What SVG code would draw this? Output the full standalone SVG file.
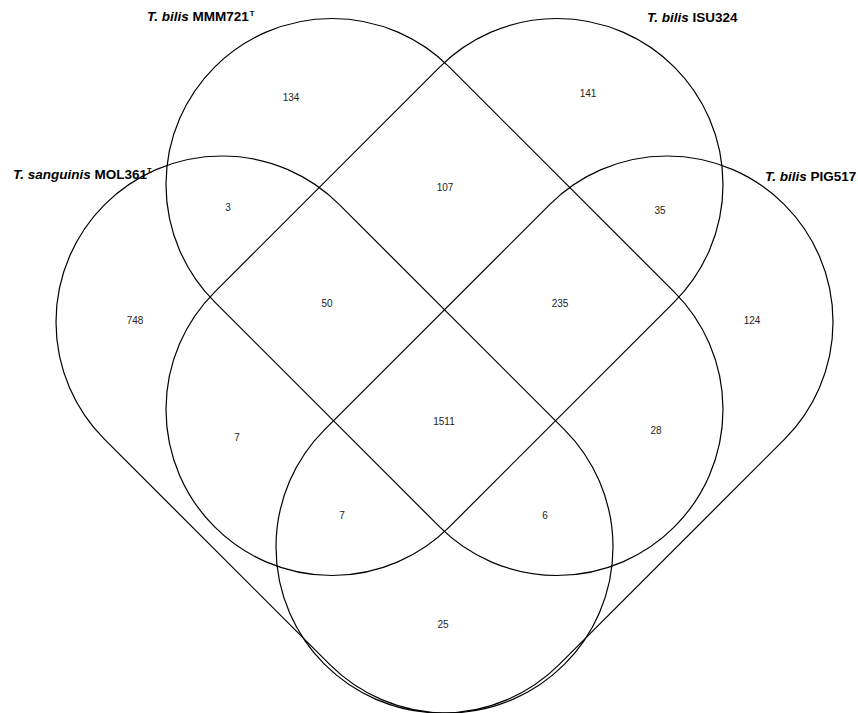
<svg xmlns="http://www.w3.org/2000/svg" width="858" height="713" viewBox="0 0 858 713">
<style>
.set{fill:none;stroke:#000;stroke-width:1.2}
.lab{font-family:"Liberation Sans",Arial,sans-serif;font-weight:bold;font-size:13.5px;fill:#000}
.it{font-style:italic}
.sup{font-size:7.5px}
.num{font-family:"Liberation Sans",Arial,sans-serif;font-size:10px;fill:#222;text-anchor:middle}
</style>
<rect width="858" height="713" fill="#fff"/>
<g id="connectors"></g>
<g id="set-sanguinis">
<rect class="set" x="-325.1" y="-166" width="650.2" height="332" rx="166" ry="166" transform="translate(334.5,434.5) rotate(45)"/>
<text class="lab" x="13" y="179"><tspan class="it">T. sanguinis</tspan> MOL361<tspan class="sup" dy="-6">T</tspan></text>
</g>
<g id="set-MMM721">
<rect class="set" x="-325.1" y="-166" width="650.2" height="332" rx="166" ry="166" transform="translate(444.5,297) rotate(45)"/>
<text class="lab" x="147" y="21"><tspan class="it">T. bilis</tspan> MMM721<tspan class="sup" dx="1" dy="-5.5">T</tspan></text>
</g>
<g id="set-ISU324">
<rect class="set" x="-325.1" y="-166" width="650.2" height="332" rx="166" ry="166" transform="translate(444.5,297) rotate(-45)"/>
<text class="lab" x="647" y="21.5"><tspan class="it">T. bilis</tspan> ISU324</text>
</g>
<g id="set-PIG517">
<rect class="set" x="-325.1" y="-166" width="650.2" height="332" rx="166" ry="166" transform="translate(554.5,434.5) rotate(-45)"/>
<text class="lab" x="765" y="180.5"><tspan class="it">T. bilis</tspan> PIG517</text>
</g>
<g id="counts">
<text class="num" x="291" y="101">134</text>
<text class="num" x="588" y="96.5">141</text>
<text class="num" x="445" y="191">107</text>
<text class="num" x="228" y="210.5">3</text>
<text class="num" x="660" y="214">35</text>
<text class="num" x="135" y="323.5">748</text>
<text class="num" x="327" y="306.5">50</text>
<text class="num" x="560" y="306.5">235</text>
<text class="num" x="752" y="323.5">124</text>
<text class="num" x="237" y="440.5">7</text>
<text class="num" x="444" y="425">1511</text>
<text class="num" x="656" y="433.5">28</text>
<text class="num" x="342" y="518.5">7</text>
<text class="num" x="545" y="518.5">6</text>
<text class="num" x="443" y="627.5">25</text>
</g>
</svg>
